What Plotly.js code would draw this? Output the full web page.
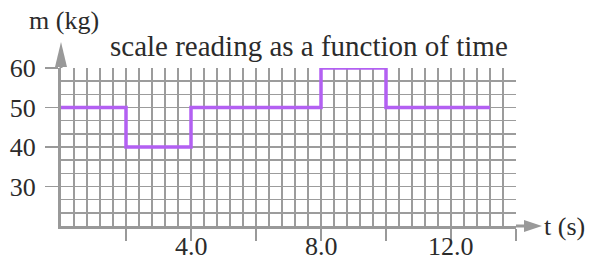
<!DOCTYPE html>
<html>
<head>
<meta charset="utf-8">
<script src="https://cdn.plot.ly/plotly-3.0.1.min.js"></script>
<style>html,body{margin:0;padding:0;background:#fff;}#chart{width:592px;height:264px;}</style>
</head>
<body>
<div id="chart"></div>
<script>
// Data
const timeS = [0, 2, 4, 8, 10, 13.2];
const massKg = [50, 40, 50, 60, 50, 50];
const xTickVals = [2, 4, 6, 8, 10, 12, 14];
const xTickText = ['', '4.0', '', '8.0', '', '12.0', ''];
const yTickVals = [30, 40, 50, 60];
const yTickText = ['30', '40', '50', '60'];
const titleText = 'scale reading as a function of time';
const yLabel = 'm (kg)';
const xLabel = 't (s)';

const FONT = 'Liberation Serif';
const TXT = '#2b2b2b';
const GRID = '#9c9c9c';
const AXIS = '#999999';
const FS = 26;

const trace = {
  x: timeS, y: massKg, type: 'scatter', mode: 'lines',
  line: {shape: 'hv', color: '#b360f2', width: 3.5},
  hoverinfo: 'none', cliponaxis: false
};

const xLabelAnns = xTickVals.map((v, i) => ({
  text: xTickText[i], xref: 'x', yref: 'paper', x: v, y: -0.13,
  xanchor: 'center', yanchor: 'middle', showarrow: false,
  font: {family: FONT, size: FS, color: TXT}
})).filter(a => a.text !== '');

const layout = {
  width: 592, height: 264,
  margin: {l: 61, r: 76, t: 68, b: 38},
  paper_bgcolor: '#fff', plot_bgcolor: '#fff',
  showlegend: false,
  font: {family: FONT, size: FS, color: TXT},
  xaxis: {
    range: [0, 14], fixedrange: true,
    tickvals: xTickVals, showticklabels: false,
    ticks: 'outside', ticklen: 12, tickwidth: 1.5, tickcolor: AXIS,
    showgrid: true, gridcolor: GRID, gridwidth: 1.5,
    minor: {dtick: 0.4, tick0: 0, showgrid: true, gridcolor: GRID, gridwidth: 1.5, ticks: ''},
    zeroline: false, showline: true, linecolor: AXIS, linewidth: 3
  },
  yaxis: {
    range: [20, 60], fixedrange: true,
    tickvals: yTickVals, ticktext: yTickText,
    ticks: 'outside', ticklen: 13, tickwidth: 1.5, tickcolor: AXIS,
    showgrid: true, gridcolor: GRID, gridwidth: 1.5,
    minor: {dtick: 10/3, tick0: 20, showgrid: true, gridcolor: GRID, gridwidth: 1.5, ticks: ''},
    zeroline: false, showline: true, linecolor: AXIS, linewidth: 3,
    tickfont: {family: FONT, size: FS, color: TXT},
    ticklabelstandoff: 4
  },
  shapes: [
    // x-axis arrow (shaft + head), sized in pixels from the plot's lower-right corner
    {type: 'line', xref: 'paper', yref: 'paper', xsizemode: 'pixel', xanchor: 1,
     x0: 0, x1: 10, y0: 0, y1: 0, line: {color: AXIS, width: 3}},
    {type: 'path', xref: 'paper', yref: 'paper', xsizemode: 'pixel', ysizemode: 'pixel',
     xanchor: 1, yanchor: 0, path: 'M 8 -6 L 8 6 L 26 0 Z',
     fillcolor: AXIS, line: {width: 0}},
    // y-axis arrow head, from the plot's upper-left corner
    {type: 'path', xref: 'paper', yref: 'paper', xsizemode: 'pixel', ysizemode: 'pixel',
     xanchor: 0, yanchor: 1, path: 'M -6 1 L 6 1 L 0 26 Z',
     fillcolor: AXIS, line: {width: 0}},
    {type: 'line', xref: 'paper', yref: 'paper', ysizemode: 'pixel', yanchor: 1,
     x0: 0, x1: 0, y0: 0, y1: 3, line: {color: AXIS, width: 3}}
  ],
  annotations: [
    {text: titleText, xref: 'paper', yref: 'paper', x: 0.546, y: 1.14,
     xanchor: 'center', yanchor: 'middle', showarrow: false,
     font: {family: FONT, size: 29, color: TXT}},
    {text: yLabel, xref: 'paper', yref: 'paper', x: 0.007, y: 1.3,
     xanchor: 'center', yanchor: 'middle', showarrow: false,
     font: {family: FONT, size: FS, color: TXT}},
    {text: xLabel, xref: 'paper', yref: 'paper', x: 1.058, y: 0.0,
     xanchor: 'left', yanchor: 'middle', showarrow: false,
     font: {family: FONT, size: FS, color: TXT}}
  ].concat(xLabelAnns)
};

Plotly.newPlot('chart', [trace], layout, {staticPlot: true, displayModeBar: false});
</script>
</body>
</html>
